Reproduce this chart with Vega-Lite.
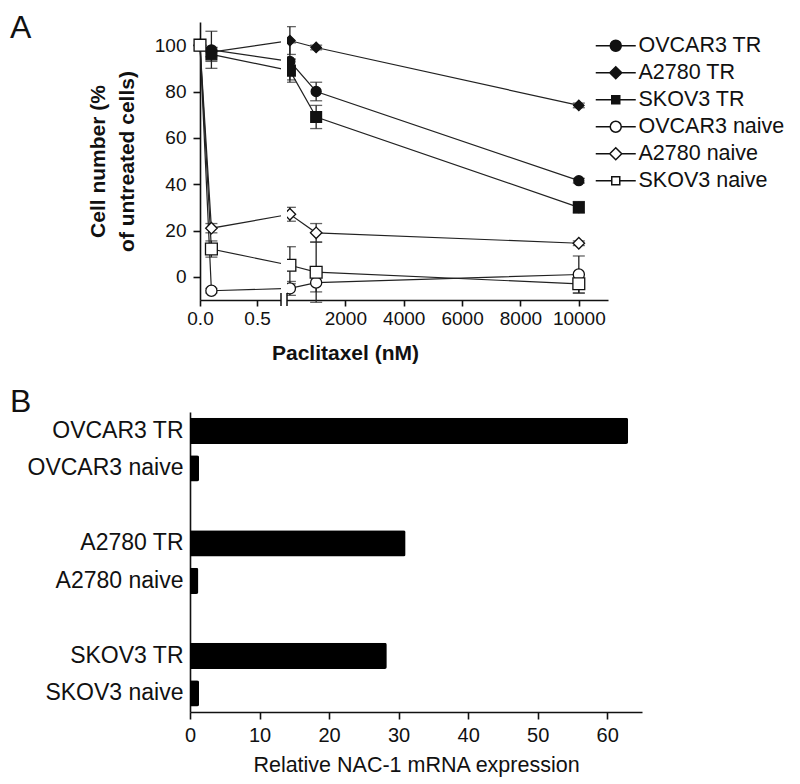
{
  "$schema": "https://vega.github.io/schema/vega-lite/v6.json",
  "autosize": {"type": "none"},
  "padding": {"left": 190, "top": 22, "right": 610, "bottom": 762},
  "background": "white",
  "config": {
    "font": "Liberation Sans",
    "view": {"stroke": null},
    "axis": {
      "grid": false,
      "labelFlush": false,
      "domainColor": "#111",
      "domainWidth": 1.6,
      "tickColor": "#111",
      "tickWidth": 1.6,
      "labelColor": "#111",
      "titleColor": "#111",
      "labelFont": "Liberation Sans",
      "titleFont": "Liberation Sans",
      "labelFontSize": 19,
      "titleFontSize": 21
    },
    "legend": {
      "labelFont": "Liberation Sans",
      "labelFontSize": 21.5,
      "labelColor": "#111",
      "labelLimit": 400
    },
    "title": {"font": "Liberation Sans", "fontSize": 32, "fontWeight": "normal", "color": "#111"}
  },
  "datasets": {
    "curves": [
      {"series": "OVCAR3 TR", "x": 0, "y": 100, "err": 0},
      {"series": "OVCAR3 TR", "x": 0.1, "y": 98, "err": 8},
      {"series": "OVCAR3 TR", "x": 100, "y": 93, "err": 8},
      {"series": "OVCAR3 TR", "x": 1000, "y": 80, "err": 4},
      {"series": "OVCAR3 TR", "x": 10000, "y": 41.5, "err": 1},
      {"series": "A2780 TR", "x": 0, "y": 100, "err": 0},
      {"series": "A2780 TR", "x": 0.1, "y": 97, "err": 2},
      {"series": "A2780 TR", "x": 100, "y": 102, "err": 6},
      {"series": "A2780 TR", "x": 1000, "y": 99, "err": 1},
      {"series": "A2780 TR", "x": 10000, "y": 74, "err": 1},
      {"series": "SKOV3 TR", "x": 0, "y": 100, "err": 0},
      {"series": "SKOV3 TR", "x": 0.1, "y": 96, "err": 3},
      {"series": "SKOV3 TR", "x": 100, "y": 89, "err": 5},
      {"series": "SKOV3 TR", "x": 1000, "y": 69, "err": 5},
      {"series": "SKOV3 TR", "x": 10000, "y": 30, "err": 2.5},
      {"series": "OVCAR3 naive", "x": 0, "y": 100, "err": 0},
      {"series": "OVCAR3 naive", "x": 0.1, "y": -6, "err": 1},
      {"series": "OVCAR3 naive", "x": 100, "y": -5, "err": 3},
      {"series": "OVCAR3 naive", "x": 1000, "y": -2.5, "err": 4},
      {"series": "OVCAR3 naive", "x": 10000, "y": 1, "err": 8},
      {"series": "A2780 naive", "x": 0, "y": 100, "err": 0},
      {"series": "A2780 naive", "x": 0.1, "y": 21, "err": 2},
      {"series": "A2780 naive", "x": 100, "y": 27, "err": 3},
      {"series": "A2780 naive", "x": 1000, "y": 19, "err": 4},
      {"series": "A2780 naive", "x": 10000, "y": 14.5, "err": 1},
      {"series": "SKOV3 naive", "x": 0, "y": 100, "err": 0},
      {"series": "SKOV3 naive", "x": 0.1, "y": 12, "err": 3.5},
      {"series": "SKOV3 naive", "x": 100, "y": 5, "err": 8},
      {"series": "SKOV3 naive", "x": 1000, "y": 2, "err": 13},
      {"series": "SKOV3 naive", "x": 10000, "y": -3, "err": 4}
    ],
    "bars": [
      {"line": "OVCAR3 TR", "value": 63},
      {"line": "OVCAR3 naive", "value": 1.3},
      {"line": "A2780 TR", "value": 31},
      {"line": "A2780 naive", "value": 1.2},
      {"line": "SKOV3 TR", "value": 28.3},
      {"line": "SKOV3 naive", "value": 1.3}
    ]
  },
  "bounds": "flush",
  "spacing": 112,
  "vconcat": [
    {
      "width": 418,
      "height": 278,
      "title": {"text": "A", "anchor": "start", "frame": "group", "dx": -180, "dy": 27},
      "resolve": {"scale": {"shape": "independent", "fill": "independent", "size": "independent"}},
      "encoding": {
        "x": {
          "field": "x", "type": "quantitative",
          "scale": {"domain": [0, 0.71, 1, 11000], "range": [10, 91, 97, 418], "nice": false, "zero": false},
          "axis": {
            "values": [0, 0.5, 2000, 4000, 6000, 8000, 10000],
            "labelExpr": "datum.value < 1 ? format(datum.value, '.1f') : format(datum.value, 'd')",
            "tickSize": 6,
            "labelPadding": 3,
            "title": "Paclitaxel (nM)",
            "titleFontWeight": "bold",
            "titleX": 155,
            "titlePadding": 14
          }
        },
        "y": {
          "field": "y", "type": "quantitative",
          "scale": {"domain": [-10, 110], "nice": false, "zero": false},
          "axis": {
            "values": [0, 20, 40, 60, 80, 100],
            "tickSize": 7,
            "labelPadding": 7,
            "offset": -10,
            "title": ["Cell number (%", "of untreated cells)"],
            "titleFontWeight": "bold",
            "titleLineHeight": 29,
            "titlePadding": 17
          }
        }
      },
      "layer": [
        {
          "data": {"name": "curves"},
          "mark": {"type": "line", "color": "#222", "strokeWidth": 1.2},
          "encoding": {
            "detail": {"field": "series"}
          }
        },
        {
          "data": {"name": "curves"},
          "transform": [{"filter": "datum.err > 0"}],
          "mark": {"type": "errorbar", "ticks": {"size": 12, "thickness": 1.3, "color": "#222"}, "rule": {"strokeWidth": 1.3, "color": "#222"}},
          "encoding": {
            "yError": {"field": "err"}
          }
        },
        {
          "data": {"name": "curves"},
          "mark": {"type": "point", "filled": true, "stroke": "#111", "strokeWidth": 1.3, "opacity": 1},
          "encoding": {
            "shape": {"field": "series", "type": "nominal", "legend": null,
              "scale": {"domain": ["OVCAR3 TR", "A2780 TR", "SKOV3 TR", "OVCAR3 naive", "A2780 naive", "SKOV3 naive"],
                        "range": ["circle", "diamond", "square", "circle", "diamond", "square"]}},
            "fill": {"field": "series", "type": "nominal", "legend": null,
              "scale": {"domain": ["OVCAR3 TR", "A2780 TR", "SKOV3 TR", "OVCAR3 naive", "A2780 naive", "SKOV3 naive"],
                        "range": ["#111", "#111", "#111", "white", "white", "white"]}},
            "size": {"field": "series", "type": "nominal", "legend": null,
              "scale": {"domain": ["OVCAR3 TR", "A2780 TR", "SKOV3 TR", "OVCAR3 naive", "A2780 naive", "SKOV3 naive"],
                        "range": [100, 140, 85, 100, 140, 85]}}
          }
        },
        {
          "data": {"name": "curves"},
          "transform": [{"filter": "false"}],
          "mark": {"type": "point", "filled": true, "stroke": "#111", "strokeWidth": 1.3, "opacity": 1},
          "encoding": {
            "shape": {"field": "series", "type": "nominal",
              "scale": {"domain": ["OVCAR3 TR", "A2780 TR", "SKOV3 TR", "OVCAR3 naive", "A2780 naive", "SKOV3 naive"],
                        "range": [
                          "M-4,0L-1.1,0M1.1,0L4,0M1.1,0A1.1,1.1 0 1 1 -1.1,0A1.1,1.1 0 1 1 1.1,0Z",
                          "M-4,0L-1.2,0M1.2,0L4,0M1.2,0L0,-1.2L-1.2,0L0,1.2Z",
                          "M-4,0L-0.8,0M0.8,0L4,0M-0.8,-0.8L0.8,-0.8L0.8,0.8L-0.8,0.8Z",
                          "M-4,0L-1.1,0M1.1,0L4,0M1.1,0A1.1,1.1 0 1 1 -1.1,0A1.1,1.1 0 1 1 1.1,0Z",
                          "M-4,0L-1.2,0M1.2,0L4,0M1.2,0L0,-1.2L-1.2,0L0,1.2Z",
                          "M-4,0L-0.8,0M0.8,0L4,0M-0.8,-0.8L0.8,-0.8L0.8,0.8L-0.8,0.8Z"
                        ]},
              "legend": {"title": null, "orient": "none", "legendX": 415, "legendY": 13, "symbolSize": 100, "rowPadding": 4, "labelOffset": 12, "labelFontSize": 21.5,
                "encode": {"symbols": {"update": {"stroke": {"value": "#111"}, "strokeWidth": {"value": 1.3}, "opacity": {"value": 1}}}}}},
            "fill": {"field": "series", "type": "nominal",
              "scale": {"domain": ["OVCAR3 TR", "A2780 TR", "SKOV3 TR", "OVCAR3 naive", "A2780 naive", "SKOV3 naive"],
                        "range": ["#111", "#111", "#111", "white", "white", "white"]},
              "legend": {"title": null, "orient": "none", "legendX": 415, "legendY": 13, "symbolSize": 100, "rowPadding": 4, "labelOffset": 12, "labelFontSize": 21.5,
                "encode": {"symbols": {"update": {"stroke": {"value": "#111"}, "strokeWidth": {"value": 1.3}, "opacity": {"value": 1}}}}}}
          }
        },
        {
          "data": {"values": [{"x": 0.71, "x2": 1, "y": -12, "y2": 110}]},
          "mark": {"type": "rect", "color": "white"},
          "encoding": {
            "x2": {"field": "x2"},
            "y2": {"field": "y2"}
          }
        },
        {
          "data": {"values": [{"x": 0.71, "y": -7, "y2": -12.6}, {"x": 1, "y": -7, "y2": -12.6}]},
          "mark": {"type": "rule", "color": "#111", "strokeWidth": 1.5},
          "encoding": {
            "y2": {"field": "y2"}
          }
        }
      ]
    },
    {
      "width": 452,
      "height": 300,
      "title": {"text": "B", "anchor": "start", "frame": "group", "dx": -180, "dy": 11},
      "data": {"name": "bars"},
      "mark": {"type": "bar", "color": "#000", "cornerRadiusEnd": 2},
      "encoding": {
        "y": {
          "field": "line", "type": "nominal",
          "scale": {"domain": ["OVCAR3 TR", "OVCAR3 naive", "gap1", "A2780 TR", "A2780 naive", "gap2", "SKOV3 TR", "SKOV3 naive"], "paddingInner": 0.3, "paddingOuter": 0.15},
          "axis": {"title": null, "ticks": false, "labelPadding": 7, "labelFontSize": 23, "labelExpr": "indexof(datum.value, 'gap') == 0 ? '' : datum.value"}
        },
        "x": {
          "field": "value", "type": "quantitative",
          "scale": {"domain": [0, 65], "nice": false},
          "axis": {"values": [0, 10, 20, 30, 40, 50, 60], "format": "d", "tickSize": 7, "labelPadding": 6, "labelFontSize": 20, "title": "Relative NAC-1 mRNA expression", "titleFontWeight": "normal", "titleFontSize": 21.5, "titlePadding": 9}
        }
      }
    }
  ]
}
